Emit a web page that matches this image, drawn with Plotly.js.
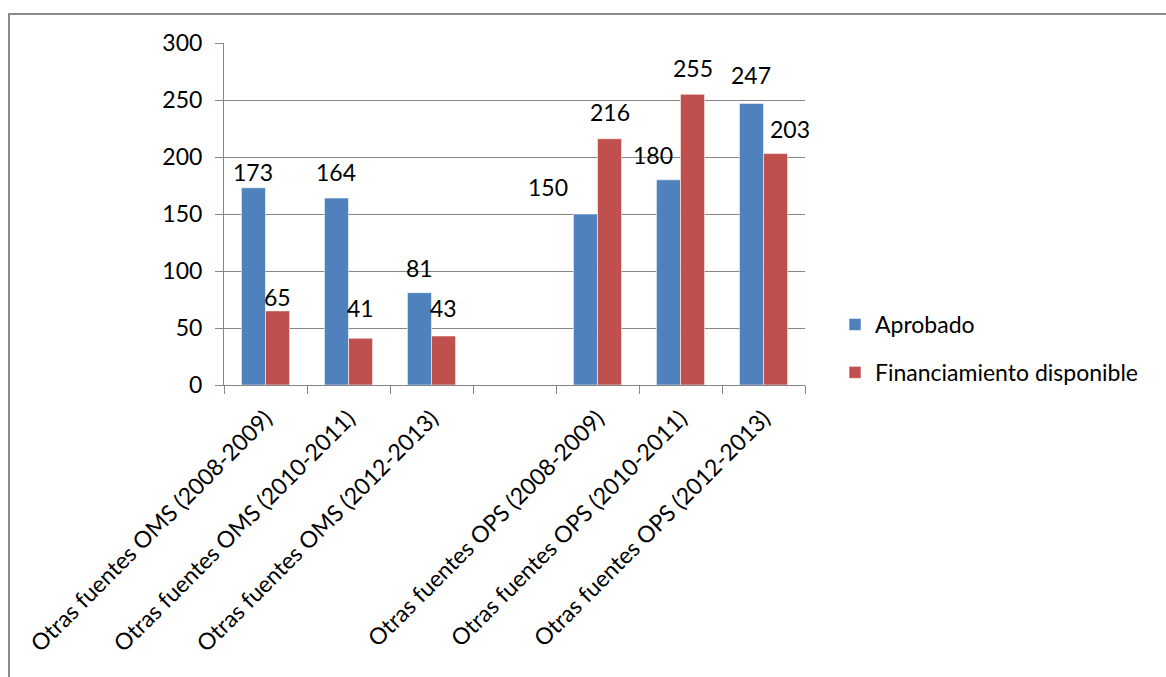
<!DOCTYPE html>
<html>
<head>
<meta charset="utf-8">
<script src="https://cdn.plot.ly/plotly-3.0.1.min.js"></script>
<style>
  html, body { margin: 0; padding: 0; background: #fff; }
  #wrap { position: relative; width: 1166px; height: 677px; overflow: hidden; }
  #chart { position: absolute; left: 0; top: 0; width: 1166px; height: 677px; }
  #frame { position: absolute; left: 8px; top: 13px; width: 1200px; height: 700px;
           border-left: 2px solid #8a8a8a; border-top: 2px solid #8a8a8a; pointer-events: none; }
</style>
</head>
<body>
<div id="wrap">
  <div id="chart"></div>
  <div id="frame"></div>
</div>
<script>
// ---- data ----
const categories = [
  "Otras fuentes OMS (2008-2009)",
  "Otras fuentes OMS (2010-2011)",
  "Otras fuentes OMS (2012-2013)",
  " ",
  "Otras fuentes OPS (2008-2009)",
  "Otras fuentes OPS (2010-2011)",
  "Otras fuentes OPS (2012-2013)"
];
const aprobado = [173, 164, 81, null, 150, 180, 247];
const financiamiento = [65, 41, 43, null, 216, 255, 203];
const seriesNames = ["Aprobado", "Financiamiento disponible"];
const yTicks = [0, 50, 100, 150, 200, 250, 300];

// ---- label styling (pixel nudges of the data labels, as placed in the original) ----
const labelDxAprobado = [0, 0, 0, 0, -37, -15, 0];
const labelDxFinanc   = [0, 0, 0, 0, 0, 0, 14];
const labelDyAprobado = [16, 26, 25, 0, 27, 25, 28];
const labelDyFinanc   = [14, 30, 28, 0, 27, 26, 25];

const FONT = "Lato, 'Open Sans', sans-serif";
const FS = 23;
const colors = ["#4F81BD", "#C0504D"];

const M = { l: 224, r: 361, t: 43, b: 292 };
const W = 1166, H = 677;
const BARGAP = 0.42;
const catPx = (W - M.l - M.r) / categories.length;
const barOffsetPx = (1 - BARGAP) * catPx / 4;

function barTrace(name, values, color, group) {
  return {
    type: "bar",
    name: name,
    x: categories,
    y: values,
    legendgroup: group,
    marker: { color: color, line: { color: "rgba(255,255,255,0.55)", width: 1 } },
    hoverinfo: "x+y"
  };
}

const data = [
  barTrace(seriesNames[0], aprobado, colors[0], "g1"),
  barTrace(seriesNames[1], financiamiento, colors[1], "g2")
];

const annotations = [];
[[aprobado, -1, labelDxAprobado, labelDyAprobado], [financiamiento, 1, labelDxFinanc, labelDyFinanc]]
  .forEach(([vals, side, dx, dy]) => {
    vals.forEach((v, i) => {
      if (v === null) return;
      annotations.push({
        x: categories[i], y: v, xref: "x", yref: "y",
        text: String(v), showarrow: false,
        xanchor: "center", yanchor: "middle",
        xshift: side * barOffsetPx + dx[i],
        yshift: dy[i],
        font: { family: FONT, size: FS, color: "#000" }
      });
    });
  });

const layout = {
  width: W,
  height: H,
  margin: { l: M.l, r: M.r, t: M.t, b: M.b, pad: 0, autoexpand: false },
  paper_bgcolor: "#fff",
  plot_bgcolor: "#fff",
  font: { family: FONT, size: FS, color: "#000" },
  barmode: "group",
  bargap: BARGAP,
  bargroupgap: 0,
  showlegend: true,
  annotations: annotations,
  legend: {
    xref: "container", yref: "container",
    x: 835 / W, xanchor: "left",
    y: 1 - 303 / H, yanchor: "top",
    font: { family: FONT, size: FS, color: "#000" },
    traceorder: "grouped",
    tracegroupgap: 15,
    bgcolor: "rgba(0,0,0,0)",
    itemwidth: 30
  },
  xaxis: {
    type: "category",
    categoryorder: "array",
    categoryarray: categories,
    range: [-0.5, categories.length - 0.5],
    tickangle: -45,
    tickson: "boundaries",
    ticks: "outside",
    ticklen: 8,
    tickcolor: "#868686",
    ticklabelstandoff: 10,
    showline: true,
    linecolor: "#868686",
    linewidth: 1,
    showgrid: false,
    zeroline: false,
    automargin: false,
    tickfont: { family: FONT, size: FS, color: "#000" },
    fixedrange: true
  },
  yaxis: {
    range: [0, 300],
    tickvals: yTicks,
    ticktext: yTicks.map(String),
    ticks: "outside",
    ticklen: 8,
    tickcolor: "#868686",
    ticklabelstandoff: 8,
    showline: true,
    linecolor: "#868686",
    linewidth: 1,
    showgrid: true,
    gridcolor: "#868686",
    gridwidth: 1,
    zeroline: false,
    automargin: false,
    tickfont: { family: FONT, size: FS, color: "#000" },
    fixedrange: true
  }
};

Plotly.newPlot("chart", data, layout, { displayModeBar: false, staticPlot: true });
</script>
</body>
</html>
